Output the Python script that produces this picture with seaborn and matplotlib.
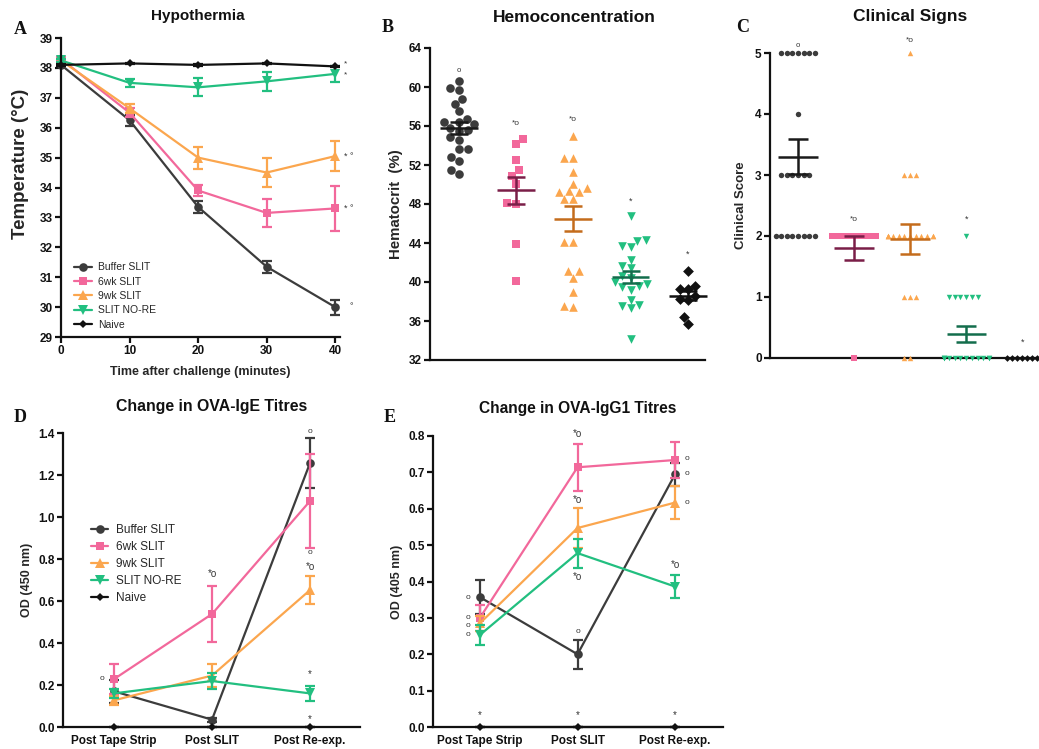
import warnings
warnings.filterwarnings("ignore")
import numpy as np
import pandas as pd
import matplotlib
matplotlib.use("Agg")
import matplotlib.pyplot as plt
import seaborn as sns

sns.set_theme(style="ticks")
plt.rcParams['font.family'] = ['Liberation Sans', 'DejaVu Sans']
plt.rcParams['font.weight'] = 'bold'

# ---------------- data ----------------
groups = ["Buffer SLIT", "6wk SLIT", "9wk SLIT", "SLIT NO-RE", "Naive"]
colors = ["#3c3c3c", "#f2689b", "#fba64e", "#22bf80", "#111111"]
mean_colors = ["#1a1a1a", "#7a1e48", "#c46c1c", "#136d4c", "#111111"]
markers = ["o", "s", "^", "v", "D"]
marker_sizes = [6.2, 6.2, 6.8, 6.8, 4.3]

# Panel A: hypothermia
time_min = [0, 10, 20, 30, 40]
temp_mean = {
    "Buffer SLIT": [38.1, 36.25, 33.35, 31.35, 30.0],
    "6wk SLIT":    [38.3, 36.5, 33.9, 33.15, 33.3],
    "9wk SLIT":    [38.25, 36.65, 35.0, 34.5, 35.05],
    "SLIT NO-RE":  [38.25, 37.5, 37.35, 37.55, 37.8],
    "Naive":       [38.1, 38.15, 38.1, 38.15, 38.05],
}
temp_sem = {
    "Buffer SLIT": [0.05, 0.18, 0.2, 0.2, 0.25],
    "6wk SLIT":    [0.05, 0.15, 0.2, 0.48, 0.75],
    "9wk SLIT":    [0.05, 0.15, 0.37, 0.48, 0.5],
    "SLIT NO-RE":  [0.05, 0.14, 0.3, 0.32, 0.27],
    "Naive":       [0.02, 0.02, 0.02, 0.02, 0.02],
}

# Panel B: hematocrit
hct_buffer = [60.6, 59.9, 59.7, 58.8, 58.3, 57.5, 56.7, 56.4, 56.4, 56.2, 55.8,
              55.5, 55.6, 54.9, 54.6, 53.6, 53.6, 52.8, 52.4, 51.5, 51.1]
hct_6wk = [54.7, 54.2, 52.5, 51.5, 50.9, 50.1, 48.1, 48.0, 43.9, 40.1]
hct_9wk = [55.0, 52.7, 52.7, 51.3, 50.1, 49.6, 49.3, 49.2, 49.2, 48.5, 48.5,
           44.1, 44.1, 41.1, 41.1, 40.4, 39.0, 37.4, 37.5]
hct_nore = [46.8, 44.3, 44.2, 43.7, 43.6, 42.3, 41.6, 41.4, 40.6, 40.4, 40.0,
            39.8, 39.6, 39.5, 39.2, 38.2, 37.6, 37.5, 37.3, 34.2]
hct_naive = [41.1, 39.6, 39.3, 39.3, 38.6, 38.3, 38.2, 36.4, 35.7]
hct_mean = [55.8, 49.4, 46.5, 40.5, 38.6]
hct_sem = [0.6, 1.4, 1.25, 0.65, 0.45]

# Panel C: clinical score
score_buffer = [5] * 7 + [4] + [3] * 6 + [2] * 8
score_6wk = [2] * 9 + [0]
score_9wk = [5] + [3] * 3 + [2] * 12 + [1] * 3 + [0] * 2
score_nore = [2] + [1] * 6 + [0] * 12
score_naive = [0] * 8
score_mean = [3.3, 1.8, 1.95, 0.4, 0.0]
score_sem = [0.29, 0.2, 0.25, 0.13, 0.0]

# Panels D/E: titres
timepoints = ["Post Tape Strip", "Post SLIT", "Post Re-exp."]
ige_mean = {
    "Buffer SLIT": [0.17, 0.035, 1.257],
    "6wk SLIT":    [0.228, 0.538, 1.076],
    "9wk SLIT":    [0.127, 0.245, 0.652],
    "SLIT NO-RE":  [0.16, 0.219, 0.16],
    "Naive":       [0.0, 0.0, 0.0],
}
ige_sem = {
    "Buffer SLIT": [0.055, 0.01, 0.118],
    "6wk SLIT":    [0.07, 0.135, 0.225],
    "9wk SLIT":    [0.02, 0.055, 0.068],
    "SLIT NO-RE":  [0.02, 0.04, 0.035],
    "Naive":       [0.0, 0.0, 0.0],
}
igg1_mean = {
    "Buffer SLIT": [0.357, 0.2, 0.695],
    "6wk SLIT":    [0.30, 0.714, 0.734],
    "9wk SLIT":    [0.285, 0.547, 0.617],
    "SLIT NO-RE":  [0.253, 0.478, 0.386],
    "Naive":       [0.0, 0.0, 0.0],
}
igg1_sem = {
    "Buffer SLIT": [0.047, 0.04, 0.032],
    "6wk SLIT":    [0.035, 0.064, 0.049],
    "9wk SLIT":    [0.02, 0.055, 0.045],
    "SLIT NO-RE":  [0.027, 0.04, 0.031],
    "Naive":       [0.0, 0.0, 0.0],
}

# ---------------- figure ----------------
W, H = 1039, 749
fig = plt.figure(figsize=(W / 100, H / 100), dpi=100)


def rect(l, t, r, b):
    return [l / W, 1 - b / H, (r - l) / W, (b - t) / H]


def style(ax, xticks_len=4):
    sns.despine(ax=ax)
    for s in ("left", "bottom"):
        ax.spines[s].set_linewidth(1.6)
        ax.spines[s].set_color("#111111")
    ax.tick_params(axis="both", width=1.6, length=4, labelsize=8.5, colors="#111111", pad=2)
    ax.tick_params(axis="x", length=xticks_len)


def note(ax, x, y, s, size=6.5):
    ax.text(x, y, s, ha="center", va="center", fontsize=size, fontweight="normal",
            color="#333333", clip_on=False)


def line_panel(ax, xs, means, sems, legend):
    for g, c, m, ms in zip(groups, colors, markers, marker_sizes):
        sns.lineplot(x=xs, y=means[g], color=c, marker=m, markersize=ms,
                     markeredgewidth=0, linewidth=1.6, label=g if legend else None,
                     errorbar=None, ax=ax, clip_on=False, legend=False)
        ax.errorbar(xs, means[g], yerr=sems[g], fmt="none", ecolor=c,
                    elinewidth=1.6, capsize=3.5, capthick=1.6, clip_on=False)


# ---- A ----
axA = fig.add_axes(rect(61, 38, 340, 337))
line_panel(axA, time_min, temp_mean, temp_sem, True)
axA.set_xlim(0, 40.7)
axA.set_ylim(29, 39)
axA.set_xticks([0, 10, 20, 30, 40])
axA.set_yticks(range(29, 40))
axA.set_xlabel("Time after challenge (minutes)", fontsize=9, fontweight="bold", labelpad=6)
axA.set_ylabel("Temperature (°C)", fontsize=13.5, fontweight="bold")
axA.yaxis.set_label_coords(-0.113, 0.58)
style(axA)
axA.legend(loc="lower left", bbox_to_anchor=(0.02, 0.0), frameon=False,
           prop=dict(size=7.5, weight="normal"), handlelength=1.7, handletextpad=0.6,
           labelspacing=0.42, borderaxespad=0.3)
note(axA, 41.5, 38.12, "*", 6); note(axA, 41.5, 37.76, "*", 6)
note(axA, 42.0, 35.05, "* °"); note(axA, 42.0, 33.3, "* °")
note(axA, 42.3, 30.0, "°")

# ---- B ----
axB = fig.add_axes(rect(430, 48, 705, 360))
hct = [hct_buffer, hct_6wk, hct_9wk, hct_nore, hct_naive]
for g, v, c, m in zip(groups, hct, colors, markers):
    sns.swarmplot(x=[g] * len(v), y=v, order=groups, color=c, marker=m,
                  size=6.2 if m != "D" else 5.5, linewidth=0, ax=axB)
for i, (mu, se, mc) in enumerate(zip(hct_mean, hct_sem, mean_colors)):
    axB.hlines(mu, i - 0.33, i + 0.33, color=mc, linewidth=1.8, zorder=5)
    axB.errorbar([i], [mu], yerr=[se], fmt="none", ecolor=mc, elinewidth=1.8,
                 capsize=6.5, capthick=1.8, zorder=5)
axB.set_xlim(-0.5, 4.3)
axB.set_ylim(32, 64)
axB.set_yticks(range(32, 65, 4))
axB.set_xticks([])
axB.set_xlabel("")
axB.set_ylabel("Hematocrit  (%)", fontsize=10.8, fontweight="bold", labelpad=4)
style(axB)
for coll in axB.collections:
    coll.set_clip_on(False)
note(axB, 0, 61.7, "o", 5.5)
note(axB, 1, 56.3, "*o", 6); note(axB, 2, 56.7, "*o", 6)
note(axB, 3, 48.3, "*", 6.5); note(axB, 4, 42.8, "*", 6.5)

# ---- C ----
axC = fig.add_axes(rect(770, 53, 1039, 358))
scores = [score_buffer, score_6wk, score_9wk, score_nore, score_naive]
for g, v, c, m in zip(groups, scores, colors, markers):
    sns.swarmplot(x=[g] * len(v), y=v, order=groups, color=c, marker=m,
                  size=3.9 if m != "D" else 3.4, linewidth=0, ax=axC)
for i, (mu, se, mc) in enumerate(zip(score_mean, score_sem, mean_colors)):
    if se > 0:
        axC.hlines(mu, i - 0.35, i + 0.35, color=mc, linewidth=1.8, zorder=5)
        axC.errorbar([i], [mu], yerr=[se], fmt="none", ecolor=mc, elinewidth=1.8,
                     capsize=7, capthick=1.8, zorder=5)
axC.set_xlim(-0.5, 4.3)
axC.set_ylim(0, 5)
axC.set_yticks(range(0, 6))
axC.set_xticks([])
axC.set_xlabel("")
axC.set_ylabel("Clinical Score", fontsize=9.5, fontweight="bold", labelpad=6)
style(axC)
for coll in axC.collections:
    coll.set_clip_on(False)
note(axC, 0, 5.13, "o", 5.5)
note(axC, 1, 2.27, "*o", 6); note(axC, 2, 5.2, "*o", 6)
note(axC, 3, 2.27, "*", 6.5); note(axC, 4, 0.26, "*", 6.5)

# ---- D ----
axD = fig.add_axes(rect(63, 433, 360, 727))
line_panel(axD, [0, 1, 2], ige_mean, ige_sem, True)
axD.set_xlim(-0.52, 2.51)
axD.set_ylim(0, 1.4)
axD.set_yticks(np.arange(0, 1.41, 0.2))
axD.set_yticklabels([f"{v:.1f}" for v in np.arange(0, 1.41, 0.2)])
axD.set_xticks([0, 1, 2])
axD.set_xticklabels(timepoints)
axD.set_ylabel("OD (450 nm)", fontsize=9, fontweight="bold", labelpad=4)
style(axD, xticks_len=0)
axD.tick_params(axis="x", pad=6)
axD.legend(loc="upper left", bbox_to_anchor=(0.06, 0.725), frameon=False,
           prop=dict(size=8.5, weight="normal"), handlelength=1.4, handletextpad=0.7,
           labelspacing=0.42)
note(axD, -0.12, 0.23, "o", 6)
note(axD, 1.0, 0.73, "*o", 7)
note(axD, 2.0, 1.405, "o", 6); note(axD, 2.0, 0.83, "o", 6)
note(axD, 2.0, 0.76, "*o", 7); note(axD, 2.0, 0.25, "*", 7); note(axD, 2.0, 0.04, "*", 7)

# ---- E ----
axE = fig.add_axes(rect(433, 436, 723, 727))
line_panel(axE, [0, 1, 2], igg1_mean, igg1_sem, False)
axE.set_xlim(-0.48, 2.49)
axE.set_ylim(0, 0.8)
axE.set_yticks(np.arange(0, 0.81, 0.1))
axE.set_yticklabels([f"{v:.1f}" for v in np.arange(0, 0.81, 0.1)])
axE.set_xticks([0, 1, 2])
axE.set_xticklabels(timepoints)
axE.set_ylabel("OD (405 nm)", fontsize=9, fontweight="bold", labelpad=4)
style(axE, xticks_len=0)
axE.tick_params(axis="x", pad=6)
for yy in (0.357, 0.30, 0.28, 0.253):
    note(axE, -0.12, yy, "o", 6)
note(axE, 1.0, 0.805, "*o", 7); note(axE, 1.0, 0.624, "*o", 7)
note(axE, 1.0, 0.412, "*o", 7); note(axE, 1.0, 0.263, "o", 6)
note(axE, 2.12, 0.737, "o", 6); note(axE, 2.12, 0.698, "o", 6); note(axE, 2.12, 0.618, "o", 6)
note(axE, 2.0, 0.445, "*o", 7)
for xx in (0, 1, 2):
    note(axE, xx, 0.033, "*", 7)

# ---- titles and panel letters ----
for x, y, s, fs in [(198, 16, "Hypothermia", 11), (574, 18, "Hemoconcentration", 12.5),
                    (910, 17, "Clinical Signs", 12.5), (212, 407, "Change in OVA-IgE Titres", 11.4),
                    (578, 408, "Change in OVA-IgG1 Titres", 11.2)]:
    fig.text(x / W, 1 - y / H, s, ha="center", va="center", fontsize=fs,
             fontweight="bold", color="#111111")
for x, y, s in [(20, 30, "A"), (388, 27, "B"), (743, 27, "C"), (20, 418, "D"), (390, 417, "E")]:
    fig.text(x / W, 1 - y / H, s, ha="center", va="center", fontsize=13,
             fontweight="bold", family="Liberation Serif", color="#111111")

fig.savefig("out.png", dpi=100)
